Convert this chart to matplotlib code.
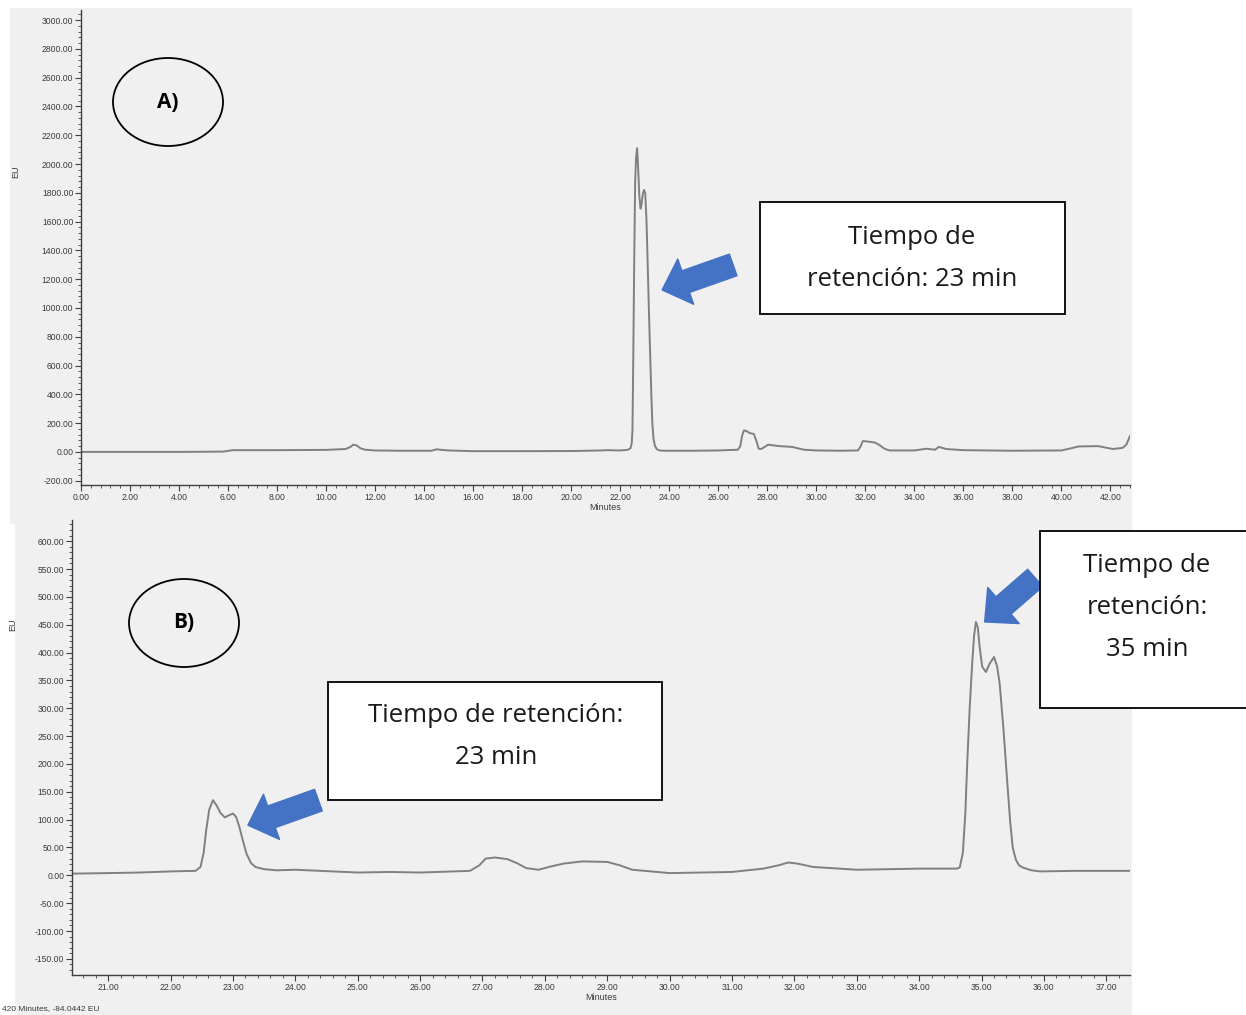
import matplotlib
matplotlib.use("Agg")
import matplotlib.pyplot as plt
from matplotlib.patches import Rectangle, Ellipse
from matplotlib.ticker import MultipleLocator, FormatStrFormatter

W, H = 1246, 1015

# Chromatogram A (0-43 min)
time_a = [0, 2, 4, 5.8, 6.2, 8, 10, 10.8, 11.0, 11.1, 11.25, 11.4, 11.6, 12, 13, 14.3,
          14.5, 14.7, 15, 16, 18, 20, 21.2, 21.5, 22.0, 22.3, 22.42, 22.47, 22.5, 22.53,
          22.57, 22.61, 22.65, 22.69, 22.73, 22.78, 22.83, 22.87, 22.92, 22.97, 23.02,
          23.07, 23.11, 23.16, 23.22, 23.27, 23.31, 23.36, 23.42, 23.5, 23.6, 23.8, 24,
          25, 26, 26.8, 26.9, 26.97, 27.05, 27.15, 27.3, 27.45, 27.55, 27.65, 27.75, 27.85,
          28.04, 28.5, 29.0, 29.5, 30, 31, 31.7, 31.8, 31.9, 32.1, 32.4, 32.6, 32.8, 33,
          34, 34.5, 34.7, 34.85, 35.0, 35.3, 36, 38, 40, 40.4, 40.7, 41.5, 41.8, 42.1,
          42.5, 42.65, 42.8]
signal_a = [0, 0, 0, 2, 12, 12, 14, 20, 35, 50, 45, 25, 15, 10, 8, 8,
            18, 14, 10, 5, 5, 6, 10, 12, 10, 14, 25, 60, 150, 600,
            1300, 1880, 2050, 2110, 1980, 1780, 1690, 1720, 1790, 1820, 1800,
            1620, 1380, 1050, 690, 400, 200, 90, 40, 18, 10, 8, 8,
            8, 10, 15, 40, 110, 150, 145, 130, 125, 80, 22, 20, 30,
            50, 40, 35, 15, 10, 8, 10, 35, 75, 72, 65, 45, 20, 10,
            10, 22, 18, 15, 35, 20, 12, 8, 10, 25, 38, 40, 30, 20,
            28, 50, 110]

# Chromatogram B (20.4-37.4 min)
time_b = [20.42, 21.0, 21.5, 22.0, 22.4, 22.48, 22.53, 22.57, 22.62, 22.68, 22.74, 22.8,
          22.87, 22.94, 23.0, 23.05, 23.1, 23.16, 23.22, 23.29, 23.36, 23.5, 23.7, 24.0,
          25.0, 25.5, 26.0, 26.8, 26.95, 27.05, 27.2, 27.4, 27.55, 27.7, 27.9, 28.1, 28.3,
          28.6, 29.0, 29.2, 29.4, 30.0, 31.0, 31.5, 31.75, 31.9, 32.05, 32.3, 33.0, 34.0,
          34.5, 34.6, 34.65, 34.7, 34.74, 34.77, 34.81, 34.85, 34.88, 34.91, 34.94, 34.97,
          35.01, 35.07, 35.13, 35.2, 35.25, 35.29, 35.35, 35.41, 35.46, 35.5, 35.55, 35.6,
          35.66, 35.8, 35.94, 36.5, 37.0, 37.38]
signal_b = [3, 4, 5, 7, 8, 15, 40, 80, 118, 135, 125, 112,
            104, 108, 111, 105, 88, 62, 38, 22, 15, 11, 9, 10,
            5, 6, 5, 8, 18, 30, 32, 29, 22, 13, 10, 16, 21,
            25, 24, 18, 10, 4, 6, 12, 18, 23, 21, 15, 10, 12,
            12, 12, 14, 40, 110, 200, 300, 380, 430, 455, 445, 410,
            375, 365, 380, 392, 375, 345, 265, 171, 95, 50, 28, 18,
            14, 9, 7, 8, 8, 8]

panel_bg = "#f0f0f0"
line_col = "#808080"
tick_col = "#3a3a3a"
arrow_col = "#4472C4"
box_font = ["Open Sans", "DejaVu Sans"]

fig = plt.figure(figsize=(W / 100, H / 100), dpi=100)
fig.patch.set_facecolor("white")


def fx(px):
    return px / W


def fy(py):
    return 1 - py / H


# grey screenshot panels
fig.add_artist(Rectangle((fx(10), fy(524)), fx(1132) - fx(10), fy(8) - fy(524),
                         transform=fig.transFigure, facecolor=panel_bg, edgecolor="none", zorder=0))
fig.add_artist(Rectangle((fx(15), fy(1015)), fx(1132) - fx(15), fy(520) - fy(1015),
                         transform=fig.transFigure, facecolor=panel_bg, edgecolor="none", zorder=0))


def style_axis(ax):
    ax.set_facecolor("none")
    for s in ("top", "right"):
        ax.spines[s].set_visible(False)
    for s in ("left", "bottom"):
        ax.spines[s].set_color("#404040")
        ax.spines[s].set_linewidth(1.0)
    ax.tick_params(which="major", direction="out", length=4, width=0.8, colors="#404040",
                   labelsize=6.2, labelcolor=tick_col, pad=1.5)
    ax.tick_params(which="minor", direction="out", length=2, width=0.6, colors="#404040")
    for lab in ax.get_xticklabels() + ax.get_yticklabels():
        lab.set_fontfamily("Liberation Sans")
    ax.xaxis.set_major_formatter(FormatStrFormatter("%.2f"))
    ax.yaxis.set_major_formatter(FormatStrFormatter("%.2f"))


# ---- Panel A ----
axA = fig.add_axes([fx(81), fy(485), fx(1130) - fx(81), fy(10) - fy(485)])
axA.plot(time_a, signal_a, color=line_col, lw=1.4)
axA.set_xlim(0, 42.8)
axA.set_ylim(-230, 3070)
axA.xaxis.set_major_locator(MultipleLocator(2))
axA.xaxis.set_minor_locator(MultipleLocator(0.4))
axA.yaxis.set_major_locator(MultipleLocator(200))
axA.yaxis.set_minor_locator(MultipleLocator(40))
style_axis(axA)
axA.set_xlabel("Minutes", fontsize=6.5, color=tick_col, labelpad=1, family="Liberation Sans")
axA.set_ylabel("EU", fontsize=6.5, color=tick_col, labelpad=2, family="Liberation Sans")
axA.yaxis.set_label_coords(-0.058, 0.66)

# ---- Panel B ----
axB = fig.add_axes([fx(72), fy(975), fx(1130) - fx(72), fy(520) - fy(975)])
axB.plot(time_b, signal_b, color=line_col, lw=1.4)
axB.set_xlim(20.42, 37.38)
axB.set_ylim(-179, 638)
axB.xaxis.set_major_locator(MultipleLocator(1))
axB.xaxis.set_minor_locator(MultipleLocator(0.2))
axB.yaxis.set_major_locator(MultipleLocator(50))
axB.yaxis.set_minor_locator(MultipleLocator(10))
style_axis(axB)
axB.set_xlabel("Minutes", fontsize=6.5, color=tick_col, labelpad=1, family="Liberation Sans")
axB.set_ylabel("EU", fontsize=6.5, color=tick_col, labelpad=2, family="Liberation Sans")
axB.yaxis.set_label_coords(-0.052, 0.77)
fig.text(fx(2), fy(1009), "420 Minutes, -84.0442 EU", fontsize=6, color=tick_col,
         family="Liberation Sans", va="center", ha="left")

# ---- panel labels in ellipses ----
for cx, cy, lab in [(168, 102, "A)"), (184, 623, "B)")]:
    fig.add_artist(Ellipse((fx(cx), fy(cy)), fx(110), 88 / H, transform=fig.transFigure,
                           facecolor="none", edgecolor="black", lw=1.3, zorder=5))
    fig.text(fx(cx), fy(cy), lab, fontsize=15, fontweight="bold", family=box_font,
             ha="center", va="center", zorder=6)


# ---- annotation boxes ----
def text_box(x0, y0, x1, y1, lines, cx, line_ys):
    fig.add_artist(Rectangle((fx(x0), fy(y1)), fx(x1) - fx(x0), fy(y0) - fy(y1),
                             transform=fig.transFigure, facecolor="white",
                             edgecolor="black", lw=1.3, zorder=5))
    for txt, ly in zip(lines, line_ys):
        fig.text(fx(cx), fy(ly), txt, fontsize=18.5, family=box_font, ha="center",
                 va="center", color="#1a1a1a", zorder=6)


text_box(760, 202, 1065, 314, ["Tiempo de", "retención: 23 min"], 912, [237, 279])
text_box(328, 682, 662, 800, ["Tiempo de retención:", "23 min"], 496, [716, 758])
text_box(1040, 531, 1260, 708, ["Tiempo de", "retención:", "35 min"], 1147, [566, 608, 650])

# ---- block arrows pointing at the peaks ----
arrow_style = "simple,head_width=2.3,head_length=1.2,tail_width=1.1"


def block_arrow(ax, tip, tail, scale):
    ax.annotate("", xy=tip, xytext=tail, annotation_clip=False,
                arrowprops=dict(arrowstyle=arrow_style, mutation_scale=scale,
                                facecolor=arrow_col, edgecolor=arrow_col,
                                shrinkA=0, shrinkB=0))


block_arrow(axA, (23.71, 1125), (26.61, 1299), 15)
block_arrow(axB, (23.24, 90), (24.37, 135), 15)
block_arrow(axB, (35.05, 455), (35.86, 534), 15)

fig.savefig("out.png", dpi=100, facecolor="white")
